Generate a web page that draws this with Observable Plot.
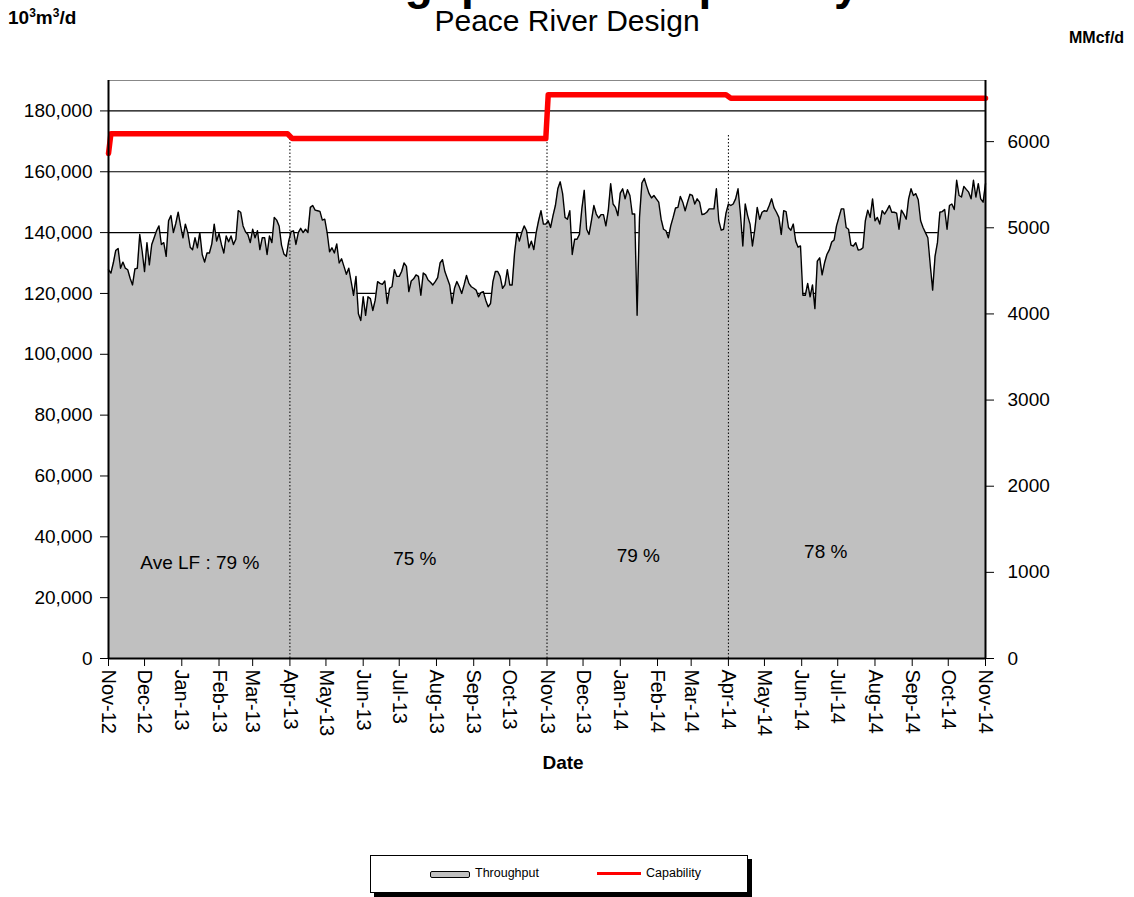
<!DOCTYPE html>
<html>
<head>
<meta charset="utf-8">
<script src="https://cdn.jsdelivr.net/npm/d3@7"></script>
<script src="https://cdn.jsdelivr.net/npm/@observablehq/plot@0.6"></script>
<style>
  body { margin: 0; background: #fff; }
  #wrap { position: relative; width: 1134px; height: 897px; overflow: hidden; font-family: 'Liberation Sans', Arial, sans-serif; color: #000; }
  .abs { position: absolute; white-space: nowrap; }
  #legend { position: absolute; left: 370px; top: 855px; width: 376px; height: 36px; border: 1px solid #000; box-shadow: 4px 4px 0 #000; background: #fff; font-size: 12.5px; }
</style>
</head>
<body>
<div id="wrap">
  <div id="chart" class="abs" style="left:0;top:0"></div>
  <div class="abs" style="left:0;width:1134px;text-align:center;top:-40px;font-weight:bold;font-size:46px;line-height:46px;">Throughput and Capability</div>
  <div class="abs" style="left:0;width:1134px;text-align:center;top:4px;font-size:30px;">Peace River Design</div>
  <div class="abs" style="left:8px;top:6px;font-weight:bold;font-size:19px;">10<sup style="font-size:12px">3</sup>m<sup style="font-size:12px">3</sup>/d</div>
  <div class="abs" style="left:1069px;top:29px;font-weight:bold;font-size:16px;">MMcf/d</div>
  <div class="abs" style="left:0;width:1126px;text-align:center;top:752px;font-weight:bold;font-size:19px;">Date</div>
  <div id="legend">
    <div class="abs" style="left:59px;top:15px;width:38px;height:5px;background:#c0c0c0;border:1px solid #000;border-radius:2px;"></div>
    <div class="abs" style="left:104px;top:10px;">Throughput</div>
    <div class="abs" style="left:226px;top:16px;width:44px;height:3px;background:#ff0000;"></div>
    <div class="abs" style="left:275px;top:10px;">Capability</div>
  </div>
</div>
<script>
// ---- data ----
const seriesStart = "2012-11-01";   // throughput sampled every 2 days
const seriesStepDays = 2;
const throughputValues = [
127800,126700,130000,134100,134800,128300,130300,128300,127800,125000,
122800,128100,128300,139400,133900,127200,136700,129400,136100,138300,
140600,142200,136100,136700,132200,143900,145600,140000,143000,146700,
142200,138300,142800,140000,135200,134400,138300,135000,140000,132800,
130300,133300,133300,136300,142800,137200,139700,136100,133300,138900,
137000,138900,136100,137800,147200,146700,142200,140300,139400,136700,
141100,138300,140600,134400,138300,138300,132800,138900,136700,145000,
144100,142200,135900,133000,132200,137200,140300,140600,136100,140000,
141400,140000,141100,140000,148300,148900,147400,147200,147000,144100,
144400,140000,133700,
135000,133300,136300,130000,131400,128900,126300,128300,123900,119400,
125600,113300,111100,118900,112800,118900,118300,114400,117800,123900,
123300,123000,124100,116700,121700,122200,127800,125600,125600,127200,
130000,128900,120600,124100,124800,126100,125600,119400,126700,126100,
124400,123700,122800,123900,125200,130000,131100,127200,125000,122800,
116700,121700,123900,122200,120000,122800,125900,123300,122200,121700,
121100,118900,120300,120600,117800,115600,116700,123900,127200,127200,
125600,121700,122800,127800,122800,122800,133300,140000,137200,140000,
142200,140600,135000,137200,134400,140000,143900,147200,142800,142800,
143900,
141700,145600,148900,154400,156700,152800,145000,144400,147200,132800,
137800,137800,139400,147800,153900,141100,139400,143900,148900,146100,
144800,145900,145900,142200,147200,156100,149400,148300,145600,153000,
154400,151100,154100,152200,146100,146100,112800,145000,156300,157800,
155200,152800,151400,152200,151100,150000,144400,141100,140600,138300,
142200,145000,148100,148300,151900,150000,147200,150000,152600,152200,
149400,151100,150000,145900,146100,146700,147800,147800,147800,154400,
143900,140800,141100,146400,149400,148900,149400,151100,154400,146100,
135600,149400,145600,142800,135600,141100,148300,144400,146700,147200,
147000,148900,
151100,148100,146700,145000,139400,147200,146900,141700,140800,142800,
137200,135200,135600,119400,119400,123300,118900,122800,115000,130600,
131700,126100,130000,132800,134300,136900,137600,142200,145000,147800,
147800,141700,141100,135900,135600,136700,134300,134400,135000,143900,
147400,145000,151100,143900,145000,142800,147200,146100,147400,148900,
146700,146700,146400,141100,147400,146100,144400,151100,154400,152200,
152800,150800,143900,141700,140000,138300,129400,121100,132200,136700,
146700,146900,147600,141100,148900,149400,147600,157200,152200,151700,
155200,154200,153300,151100,157200,151700,156100,151100,150000,156100
];

const capabilityDates  = ["2012-11-01","2012-11-03","2013-03-30","2013-04-03","2013-10-31","2013-11-02","2014-03-30","2014-04-03","2014-11-01"];
const capabilityValues = [166000,172500,172500,170900,170900,185300,185300,184200,184200];

const periodBreakDates = ["2013-04-01","2013-11-01","2014-04-01"];
const periodBreakTops  = [171000,172500,172500];

const loadFactorLabels = ["Ave LF : 79 %","75 %","79 %","78 %"];
const loadFactorDates  = ["2013-01-16","2013-07-14","2014-01-16","2014-06-21"];
const loadFactorY      = [31500,32900,33800,35200];

const leftTicks  = [0,20000,40000,60000,80000,100000,120000,140000,160000,180000];
const rightTicks = [0,1000,2000,3000,4000,5000,6000];   // MMcf/d
const MMCF_TO_E3M3 = 28.317;
const xDomain = ["2012-11-01","2014-11-01"];
const yMax = 190000;

// ---- build ----
const parse = d3.utcParse("%Y-%m-%d");
const t0 = parse(seriesStart);
const throughput = throughputValues.map((v, i) => ({date: d3.utcDay.offset(t0, i * seriesStepDays), value: v}));
const capability = capabilityDates.map((d, i) => ({date: parse(d), value: capabilityValues[i]}));
const breaks = periodBreakDates.map((d, i) => ({date: parse(d), top: periodBreakTops[i]}));
const lf = loadFactorLabels.map((t, i) => ({text: t, date: parse(loadFactorDates[i]), y: loadFactorY[i]}));
const xd = xDomain.map(parse);
const monthTicks = d3.utcMonth.range(xd[0], d3.utcDay.offset(xd[1], 1));

const chart = Plot.plot({
  width: 1134,
  height: 790,
  marginTop: 80,
  marginLeft: 108,
  marginRight: 149,
  marginBottom: 132,
  style: {fontFamily: "'Liberation Sans', Arial, sans-serif", fontSize: "19px", background: "transparent", color: "#000"},
  x: {type: "utc", domain: xd},
  y: {domain: [0, yMax]},
  marks: [
    Plot.ruleY(leftTicks, {stroke: "#000", strokeWidth: 1.2}),
    Plot.areaY(throughput, {x: "date", y: "value", fill: "#c0c0c0"}),
    Plot.lineY(throughput, {x: "date", y: "value", stroke: "#000", strokeWidth: 1.4}),
    Plot.ruleX(breaks, {x: "date", y1: 0, y2: "top", stroke: "#000", strokeWidth: 1, strokeDasharray: "1.5,2"}),
    Plot.line(capability, {x: "date", y: "value", stroke: "#ff0000", strokeWidth: 5.5}),
    Plot.text(lf, {x: "date", y: "y", text: "text", fontSize: 19}),
    Plot.frame({stroke: "#888"}),
    Plot.axisY(leftTicks, {anchor: "left", tickFormat: d3.format(","), tickSize: 8, tickPadding: 8, label: null, fontSize: 19}),
    Plot.axisY(rightTicks.map(v => v * MMCF_TO_E3M3), {anchor: "right", tickFormat: d => String(Math.round(d / MMCF_TO_E3M3)), tickSize: 8, tickPadding: 14, label: null, fontSize: 19}),
    Plot.axisX(monthTicks, {anchor: "bottom", tickFormat: d3.utcFormat("%b-%y"), tickRotate: 90, tickSize: 8, tickPadding: 3, label: null, fontSize: 20}),
    Plot.ruleX([xd[0]], {stroke: "#000", strokeWidth: 2}),
    Plot.ruleX([xd[1]], {stroke: "#000", strokeWidth: 2}),
    Plot.ruleY([0], {stroke: "#000", strokeWidth: 2})
  ]
});
document.getElementById("chart").appendChild(chart);
</script>
</body>
</html>
